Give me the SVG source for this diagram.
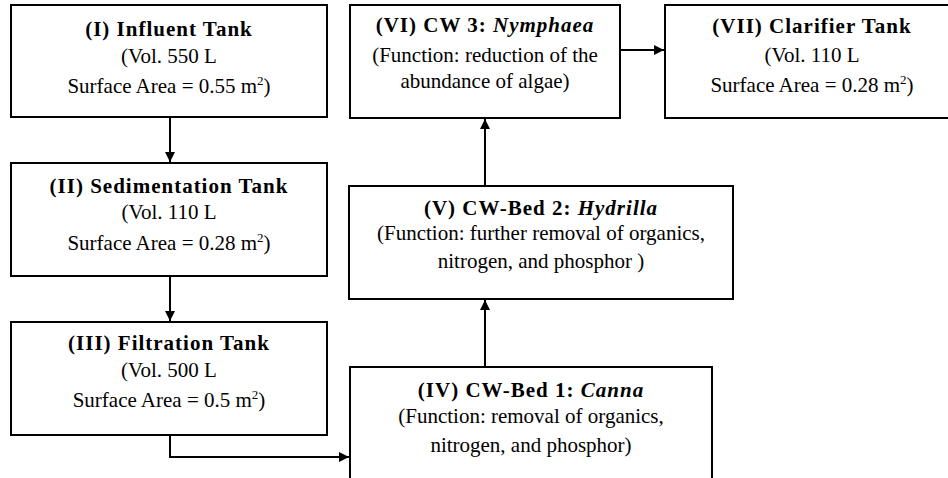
<svg xmlns="http://www.w3.org/2000/svg" width="948" height="478" viewBox="0 0 948 478">
<style>
.box{fill:#fff;stroke:#000;stroke-width:2}
text{font-family:"Liberation Serif","Times New Roman",serif;font-size:21px;fill:#000;text-anchor:middle}
.t{font-weight:bold;letter-spacing:1px}
.i{font-style:italic}
.c{fill:none;stroke:#000;stroke-width:2}
.sup{font-size:13px}
</style>
<defs>
<marker id="ah" markerUnits="userSpaceOnUse" markerWidth="10" markerHeight="10" refX="10" refY="5" orient="auto">
<path d="M0,0 L10,5 L0,10 z" fill="#000"/>
</marker>
</defs>
<rect width="948" height="478" fill="#fff"/>
<g id="connectors">
<line class="c" x1="170" y1="117" x2="170" y2="162" marker-end="url(#ah)"/>
<line class="c" x1="170" y1="276" x2="170" y2="321" marker-end="url(#ah)"/>
<path class="c" d="M170,435 V457 H349" marker-end="url(#ah)"/>
<line class="c" x1="485" y1="367" x2="485" y2="300" marker-end="url(#ah)"/>
<line class="c" x1="485" y1="186" x2="485" y2="119" marker-end="url(#ah)"/>
<line class="c" x1="620" y1="50" x2="664" y2="50" marker-end="url(#ah)"/>
</g>
<g id="n1">
<rect class="box" x="11" y="5" width="316" height="112"/>
<text x="169" y="36" class="t">(I) Influent Tank</text>
<text x="169" y="63">(Vol. 550 L</text>
<text x="169" y="93">Surface Area = 0.55 m<tspan class="sup" dy="-8">2</tspan><tspan dy="8">)</tspan></text>
</g>
<g id="n2">
<rect class="box" x="11" y="163" width="316" height="113"/>
<text x="169" y="193" class="t">(II) Sedimentation Tank</text>
<text x="169" y="219">(Vol. 110 L</text>
<text x="169" y="250">Surface Area = 0.28 m<tspan class="sup" dy="-8">2</tspan><tspan dy="8">)</tspan></text>
</g>
<g id="n3">
<rect class="box" x="11" y="322" width="316" height="113"/>
<text x="169" y="350" class="t">(III) Filtration Tank</text>
<text x="169" y="377">(Vol. 500 L</text>
<text x="169" y="407">Surface Area = 0.5 m<tspan class="sup" dy="-8">2</tspan><tspan dy="8">)</tspan></text>
</g>
<g id="n4">
<rect class="box" x="350" y="367" width="362" height="130"/>
<text x="531" y="397" class="t">(IV) CW-Bed 1: <tspan class="i">Canna</tspan></text>
<text x="531" y="423">(Function: removal of organics,</text>
<text x="531" y="452">nitrogen, and phosphor)</text>
</g>
<g id="n5">
<rect class="box" x="349" y="186" width="384" height="113"/>
<text x="541" y="215" class="t">(V) CW-Bed 2: <tspan class="i">Hydrilla</tspan></text>
<text x="541" y="240">(Function: further removal of organics,</text>
<text x="541" y="268">nitrogen, and phosphor )</text>
</g>
<g id="n6">
<rect class="box" x="350" y="5" width="270" height="113"/>
<text x="485" y="32" class="t">(VI) CW 3: <tspan class="i">Nymphaea</tspan></text>
<text x="485" y="62">(Function: reduction of the</text>
<text x="485" y="88">abundance of algae)</text>
</g>
<g id="n7">
<rect class="box" x="665" y="5" width="295" height="113"/>
<text x="812" y="33" class="t">(VII) Clarifier Tank</text>
<text x="812" y="62">(Vol. 110 L</text>
<text x="812" y="92">Surface Area = 0.28 m<tspan class="sup" dy="-8">2</tspan><tspan dy="8">)</tspan></text>
</g>
</svg>
